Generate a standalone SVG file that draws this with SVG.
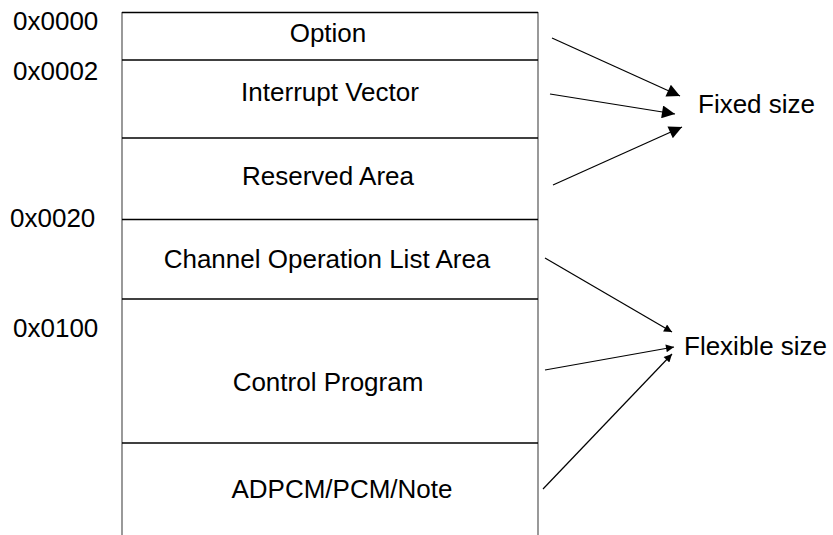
<svg xmlns="http://www.w3.org/2000/svg" width="833" height="535" viewBox="0 0 833 535">
<style>
text{font-family:"Liberation Sans",Arial,sans-serif;font-size:26px;fill:#000}
.c{text-anchor:middle}
.h{stroke:#000;stroke-width:1.4}
.v{stroke:#808080;stroke-width:1.6}
.a{stroke:#000;stroke-width:1.2;fill:none}
</style>
<defs>
<marker id="big" viewBox="0 0 10 10" refX="10" refY="5" markerUnits="userSpaceOnUse" markerWidth="16" markerHeight="13" orient="auto"><path d="M0,0L10,5L0,10z" fill="#000"/></marker>
<marker id="small" viewBox="0 0 10 10" refX="10" refY="5" markerUnits="userSpaceOnUse" markerWidth="11" markerHeight="8" orient="auto"><path d="M0,0L10,5L0,10z" fill="#000"/></marker>
</defs>
<g id="frame">
<line class="v" x1="122" y1="12" x2="122" y2="535"/>
<line class="v" x1="538" y1="12" x2="538" y2="535"/>
<line class="h" x1="122" y1="12.5" x2="538" y2="12.5"/>
</g>
<g id="option"><text class="c" x="328" y="42">Option</text></g>
<g id="interrupt"><line class="h" x1="122" y1="60" x2="538" y2="60"/><text class="c" x="330" y="101">Interrupt Vector</text></g>
<g id="reserved"><line class="h" x1="122" y1="138" x2="538" y2="138"/><text class="c" x="328" y="185">Reserved Area</text></g>
<g id="channel"><line class="h" x1="122" y1="219.5" x2="538" y2="219.5"/><text class="c" x="327" y="268">Channel Operation List Area</text></g>
<g id="control"><line class="h" x1="122" y1="299" x2="538" y2="299"/><text class="c" x="328" y="391">Control Program</text></g>
<g id="adpcm"><line class="h" x1="122" y1="443" x2="538" y2="443"/><text class="c" x="342" y="498">ADPCM/PCM/Note</text></g>
<g id="addresses">
<text x="13" y="30">0x0000</text>
<text x="13" y="80">0x0002</text>
<text x="10" y="227">0x0020</text>
<text x="13" y="337">0x0100</text>
</g>
<g id="fixed"><text x="698" y="113">Fixed size</text></g>
<g id="flexible"><text x="684" y="355">Flexible size</text></g>
<g id="connectors">
<line class="a" x1="552" y1="38" x2="680" y2="96" marker-end="url(#big)"/>
<line class="a" x1="550" y1="94" x2="675" y2="114" marker-end="url(#big)"/>
<line class="a" x1="553" y1="185" x2="682" y2="127" marker-end="url(#big)"/>
<line class="a" x1="545" y1="258" x2="672" y2="332" marker-end="url(#small)"/>
<line class="a" x1="545" y1="370" x2="674" y2="347" marker-end="url(#small)"/>
<line class="a" x1="543" y1="489" x2="672" y2="354" marker-end="url(#small)"/>
</g>
</svg>
